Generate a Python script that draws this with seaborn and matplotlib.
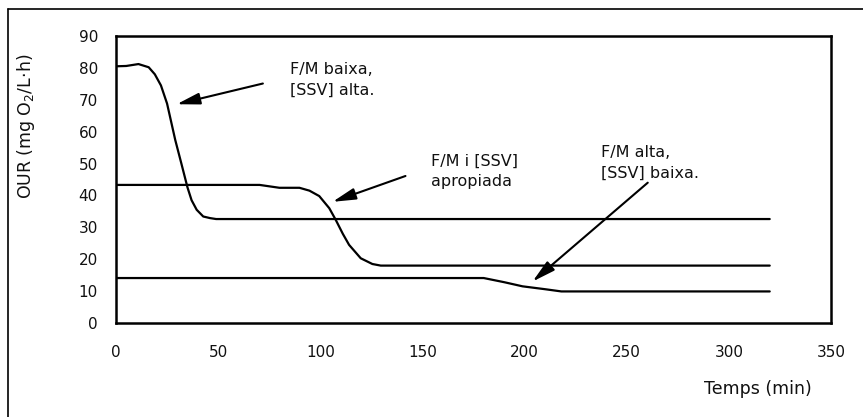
import pandas as pd
import numpy as np
import matplotlib
matplotlib.use('Agg')
import matplotlib.pyplot as plt
import seaborn as sns

# data (time in min, OUR in mg O2/L·h)
t_high = [0, 5, 11, 16, 19, 22, 25, 29, 32, 35, 37, 39.5, 42.7, 46, 49, 55, 100, 200, 320]
our_high = [80.5, 80.6, 81.2, 80.2, 78.0, 74.5, 68.8, 57.4, 50.0, 42.5, 38.5, 35.5, 33.4, 32.9, 32.6, 32.6, 32.6, 32.6, 32.6]

t_mid = [0, 20, 40, 60, 70.3, 80, 89.8, 94.7, 99.5, 104.4, 107.6, 111, 114.1, 119.8, 125.5, 129.6, 140, 200, 320]
our_mid = [43.3, 43.3, 43.3, 43.3, 43.3, 42.4, 42.4, 41.5, 39.8, 36.0, 32.3, 28.0, 24.5, 20.3, 18.5, 18.0, 18.0, 18.0, 18.0]

t_low = [0, 60, 120, 180, 190, 199, 210, 218, 260, 320]
our_low = [14.1, 14.1, 14.1, 14.1, 12.8, 11.5, 10.6, 9.9, 9.9, 9.9]

series_names = ['high', 'mid', 'low']

labels = ['F/M baixa,\n[SSV] alta.', 'F/M i [SSV]\napropiada', 'F/M alta,\n[SSV] baixa.']
label_pos = [(85, 81.7), (154, 53.0), (237.5, 55.8)]
arrow_tail = [(71.9, 75.1), (141.7, 46.1), (260.3, 44.0)]
arrow_tip = [(29.7, 68.6), (106.0, 38.0), (203.9, 13.0)]

x_ticks = [0, 50, 100, 150, 200, 250, 300, 350]
y_ticks = [0, 10, 20, 30, 40, 50, 60, 70, 80, 90]

df = pd.concat([
    pd.DataFrame({'t': t_high, 'our': our_high, 'serie': 'high'}),
    pd.DataFrame({'t': t_mid, 'our': our_mid, 'serie': 'mid'}),
    pd.DataFrame({'t': t_low, 'our': our_low, 'serie': 'low'}),
])

sns.set_style('white')
plt.rcParams['font.family'] = ['DejaVu Sans']
plt.rcParams['mathtext.fontset'] = 'dejavusans'

fig = plt.figure(figsize=(8.63, 4.17), dpi=100)
ax = fig.add_axes([116 / 863, 1 - 323 / 417, (831 - 116) / 863, (323 - 36) / 417])

for name in series_names:
    sub = df[df['serie'] == name]
    sns.lineplot(data=sub, x='t', y='our', ax=ax, color='black', lw=1.6,
                 sort=False, estimator=None, legend=False)

for txt, pos, tail, tip in zip(labels, label_pos, arrow_tail, arrow_tip):
    ax.text(pos[0], pos[1], txt, fontsize=11.5, va='top', ha='left',
            linespacing=1.45, color='#111111')
    ax.annotate('', xy=tip, xytext=tail,
                arrowprops=dict(arrowstyle='-|>,head_length=1.4,head_width=0.35',
                                color='black', lw=1.5, shrinkA=0, shrinkB=0))

ax.set_xlim(0, 350)
ax.set_ylim(0, 90)
ax.set_xticks(x_ticks)
ax.set_yticks(y_ticks)
ax.tick_params(axis='both', direction='out', length=5, width=1.2, color='black',
               labelsize=11, labelcolor='#111111')
ax.tick_params(axis='x', pad=11)
ax.tick_params(axis='y', pad=8)
for sp in ax.spines.values():
    sp.set_color('black')
    sp.set_linewidth(1.8)

ax.set_xlabel('Temps (min)', fontsize=12.5, color='#111111')
ax.xaxis.set_label_coords(0.898, -0.2)
ax.set_ylabel('OUR (mg O$_2$/L·h)', fontsize=12.5, color='#111111')
ax.yaxis.set_label_coords(-0.11, 0.686)

# outer frame (top and left edges)
fig.add_artist(plt.Line2D([8 / 863, 1], [1 - 9 / 417, 1 - 9 / 417], color='black', lw=1.2))
fig.add_artist(plt.Line2D([8 / 863, 8 / 863], [0, 1 - 9 / 417], color='black', lw=1.2))

fig.savefig('out.png', dpi=100)
